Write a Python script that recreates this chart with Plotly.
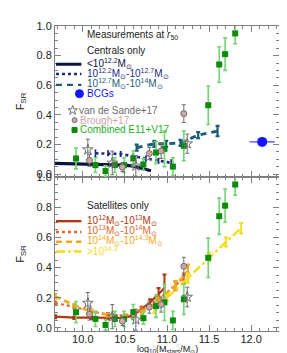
import plotly.graph_objects as go

# ---------------- data ----------------
# Combined E11+V17 (shown in both panels)
comb_x = [9.92, 10.15, 10.27, 10.38, 10.49, 10.60, 10.72, 10.87, 10.97, 11.07, 11.20, 11.49, 11.62, 11.69, 11.81]
comb_y = [0.105, 0.06, 0.02, 0.06, 0.06, 0.105, 0.065, 0.145, 0.17, 0.05, 0.19, 0.465, 0.74, 0.81, 0.95]
comb_e = [0.07, 0.05, 0.035, 0.05, 0.05, 0.05, 0.04, 0.075, 0.12, 0.06, 0.10, 0.13, 0.12, 0.11, 0.07]
# van de Sande+17
vds_x = [10.06, 10.35, 10.63, 11.24]
vds_y = [0.165, 0.075, 0.055, 0.205]
vds_e = [0.07, 0.08, 0.07, 0.065]
# Brough+17
bro_x = [10.08, 10.47, 10.79, 10.93, 11.20]
bro_y = [0.092, 0.046, 0.138, 0.155, 0.408]
bro_e = [0.04, 0.03, 0.04, 0.05, 0.06]
# BCGs
bcg_x = [12.13]
bcg_y = [0.217]
bcg_xe = [0.15]
# Centrals: halo mass bins
c1_x = [9.67, 9.9, 10.1, 10.3, 10.5, 10.6, 10.7, 10.81]
c1_y = [0.072, 0.07, 0.067, 0.064, 0.06, 0.053, 0.04, 0.022]
c2_x = [10.15, 10.3, 10.45, 10.6, 10.75, 10.9, 11.05]
c2_y = [0.14, 0.14, 0.135, 0.12, 0.105, 0.09, 0.075]
c2_e = [0.02, 0.015, 0.015, 0.015, 0.015, 0.015, 0.02]
c3_x = [10.64, 10.85, 10.99, 11.16, 11.37, 11.60]
c3_y = [0.178, 0.204, 0.204, 0.21, 0.263, 0.29]
c3_e = [0.02, 0.02, 0.02, 0.02, 0.02, 0.035]
# Satellites: halo mass bins
s1_x = [9.67, 9.9, 10.1, 10.3, 10.5, 10.6, 10.7, 10.8, 10.9, 10.97]
s1_y = [0.075, 0.068, 0.068, 0.066, 0.066, 0.085, 0.125, 0.17, 0.225, 0.265]
s1_e = [0.01, 0.008, 0.008, 0.008, 0.008, 0.01, 0.015, 0.02, 0.04, 0.09]
s2_x = [9.67, 9.9, 10.1, 10.3, 10.5, 10.7, 10.9, 11.1, 11.2]
s2_y = [0.165, 0.14, 0.11, 0.09, 0.08, 0.12, 0.19, 0.28, 0.33]
s2_e = [0.01, 0.01, 0.01, 0.01, 0.01, 0.015, 0.02, 0.03, 0.03]
s3_x = [9.67, 9.9, 10.1, 10.3, 10.5, 10.7, 10.9, 11.1, 11.25]
s3_y = [0.21, 0.15, 0.11, 0.085, 0.075, 0.1, 0.18, 0.28, 0.38]
s3_e = [0.015, 0.01, 0.01, 0.01, 0.01, 0.015, 0.02, 0.03, 0.04]
s4_x = [10.85, 11.0, 11.25, 11.5, 11.7, 11.88]
s4_y = [0.12, 0.2, 0.33, 0.47, 0.57, 0.66]
s4_e = [0.02, 0.02, 0.03, 0.03, 0.03, 0.035]

x_range = [9.67, 12.33]
y_range = [-0.02, 1.0]

# ---------------- styles ----------------
C_NAVY = "#0d1440"
C_NAVY2 = "#1c2b85"
C_TEAL = "#1b5e78"
C_BCG = "#1414ff"
C_GRAY = "#6e6e6e"
C_BRO = "#cfa6a6"
C_GREEN = "#0b8a0b"
C_GREEN_E = "#72d672"
C_S1 = "#b0360f"
C_S2 = "#e2652c"
C_S3 = "#f4a81a"
C_S4 = "#f6dc1e"
FONT = "Liberation Sans"

W, H = 287, 353
L, R, T, B = 42, 16, 12, 30
SPLIT = 0.505
PW, PH = W - L - R, H - T - B

fig = go.Figure()


def add_obs(xa, ya):
    fig.add_trace(go.Scatter(x=comb_x, y=comb_y, mode="markers", xaxis=xa, yaxis=ya,
                             error_y=dict(type="data", array=comb_e, color=C_GREEN_E, thickness=1.6, width=2),
                             marker=dict(symbol="square", size=6, color=C_GREEN, line=dict(width=0))))
    fig.add_trace(go.Scatter(x=vds_x, y=vds_y, mode="markers", xaxis=xa, yaxis=ya,
                             error_y=dict(type="data", array=vds_e, color=C_GRAY, thickness=1, width=2),
                             marker=dict(symbol="star-open", size=8, color=C_GRAY, line=dict(width=1))))
    fig.add_trace(go.Scatter(x=bro_x, y=bro_y, mode="markers", xaxis=xa, yaxis=ya,
                             error_y=dict(type="data", array=bro_e, color=C_GRAY, thickness=1, width=2),
                             marker=dict(symbol="circle", size=6, color=C_BRO, line=dict(width=1, color=C_GRAY))))


# upper panel (centrals)
fig.add_trace(go.Scatter(x=c1_x, y=c1_y, mode="lines", xaxis="x2", yaxis="y2",
                         line=dict(color=C_NAVY, width=3.2)))
fig.add_trace(go.Scatter(x=c2_x, y=c2_y, mode="lines", xaxis="x2", yaxis="y2",
                         error_y=dict(type="data", array=c2_e, color=C_NAVY2, thickness=1.5, width=1),
                         line=dict(color=C_NAVY2, width=2.6, dash="dot")))
fig.add_trace(go.Scatter(x=c3_x, y=c3_y, mode="lines", xaxis="x2", yaxis="y2",
                         error_y=dict(type="data", array=c3_e, color=C_TEAL, thickness=2.2, width=2),
                         line=dict(color=C_TEAL, width=3, dash="6px,5px")))
fig.add_trace(go.Scatter(x=bcg_x, y=bcg_y, mode="markers", xaxis="x2", yaxis="y2",
                         error_x=dict(type="data", array=bcg_xe, color=C_BCG, thickness=1, width=0),
                         marker=dict(symbol="circle", size=10, color=C_BCG)))
add_obs("x2", "y2")

# lower panel (satellites)
fig.add_trace(go.Scatter(x=s1_x, y=s1_y, mode="lines", xaxis="x", yaxis="y",
                         error_y=dict(type="data", array=s1_e, color=C_S1, thickness=2, width=2),
                         line=dict(color=C_S1, width=2.2)))
fig.add_trace(go.Scatter(x=s2_x, y=s2_y, mode="lines", xaxis="x", yaxis="y",
                         error_y=dict(type="data", array=s2_e, color=C_S2, thickness=2, width=2),
                         line=dict(color=C_S2, width=2.2, dash="dot")))
fig.add_trace(go.Scatter(x=s3_x, y=s3_y, mode="lines", xaxis="x", yaxis="y",
                         error_y=dict(type="data", array=s3_e, color=C_S3, thickness=2, width=2),
                         line=dict(color=C_S3, width=2.6, dash="6px,4px")))
fig.add_trace(go.Scatter(x=s4_x, y=s4_y, mode="lines", xaxis="x", yaxis="y",
                         error_y=dict(type="data", array=s4_e, color=C_S4, thickness=2, width=2),
                         line=dict(color=C_S4, width=2.4, dash="dashdot")))
add_obs("x", "y")

# ---------------- in-plot legends (helper axes in pixel units of the page) ----------------


def leg_line(y_px, color, dash, width):
    fig.add_trace(go.Scatter(x=[43, 69], y=[y_px, y_px], mode="lines", xaxis="x3", yaxis="y3",
                             line=dict(color=color, width=width, dash=dash)))


def leg_marker(x_px, y_px, symbol, size, color, lc=None):
    fig.add_trace(go.Scatter(x=[x_px], y=[y_px], mode="markers", xaxis="x3", yaxis="y3",
                             marker=dict(symbol=symbol, size=size, color=color,
                                         line=dict(width=1, color=lc or color))))


ann = []


def leg_text(x_px, y_px, text, color):
    ann.append(dict(x=x_px, y=y_px, xref="x3", yref="y3", text=text, showarrow=False,
                    xanchor="left", yanchor="middle", font=dict(family=FONT, size=10, color=color)))


MS = "M<sub>\u2299</sub>"
leg_text(73, 21, "Measurements at <i>r</i><sub>50</sub>", "#222")
leg_text(73, 37, "Centrals only", "#222")
leg_line(51, C_NAVY, "solid", 3)
leg_text(73, 50, "&lt;10<sup>12.2</sup>" + MS, C_NAVY)
leg_line(61, C_NAVY2, "dot", 2.4)
leg_text(73, 60, "10<sup>12.2</sup>" + MS + "-10<sup>12.7</sup>" + MS, C_NAVY2)
leg_line(72, C_TEAL, "6px,5px", 2.4)
leg_text(73, 71, "10<sup>12.7</sup>" + MS + "-10<sup>14</sup>" + MS, C_TEAL)
leg_marker(67, 81, "circle", 8, C_BCG)
leg_text(73, 81, "BCGs", C_BCG)
leg_marker(60, 98, "star-open", 7, C_GRAY)
leg_text(64, 98, "van de Sande+17", C_GRAY)
leg_marker(62, 108, "circle", 5, C_BRO, C_GRAY)
leg_text(66, 108, "Brough+17", C_BRO)
leg_marker(62, 118, "square", 5, C_GREEN)
leg_text(66, 118, "Combined E11+V17", "#22b022")

leg_text(73, 195, "Satellites only", "#222")
leg_line(211, C_S1, "solid", 2.4)
leg_text(73, 210, "10<sup>12</sup>" + MS + "-10<sup>13</sup>" + MS, C_S1)
leg_line(222, C_S2, "dot", 2.4)
leg_text(73, 221, "10<sup>13</sup>" + MS + "-10<sup>14</sup>" + MS, C_S2)
leg_line(232, C_S3, "6px,4px", 2.4)
leg_text(73, 231, "10<sup>14</sup>" + MS + "-10<sup>14.3</sup>" + MS, C_S3)
leg_line(242, C_S4, "dashdot", 2.4)
leg_text(73, 241, "&gt;10<sup>14.3</sup>", C_S4)

# x axis title (paper coords, kept inside the page)
ann.append(dict(x=0.5, y=(H - B - 348) / PH, xref="paper", yref="paper", yanchor="bottom", xanchor="center",
                text="log<sub>10</sub>(M<sub>stars</sub>/M<sub>\u2299</sub>)", showarrow=False, borderpad=0,
                font=dict(family=FONT, size=9, color="#222")))

axis_common = dict(range=x_range, showline=True, linecolor="#808080", linewidth=1, mirror="allticks",
                   ticks="inside", ticklen=6, tickcolor="#808080", tickwidth=1, dtick=0.5, tick0=10,
                   tickformat=".1f", showgrid=False, zeroline=False,
                   minor=dict(dtick=0.1, ticks="inside", ticklen=3, tickcolor="#808080", showgrid=False),
                   tickfont=dict(family=FONT, size=11, color="#222"))
yaxis_common = dict(range=y_range, showline=True, linecolor="#808080", linewidth=1, mirror="allticks",
                    ticks="inside", ticklen=6, tickcolor="#808080", tickwidth=1, dtick=0.2, tick0=0,
                    tickformat=".1f", showgrid=False, zeroline=False,
                    minor=dict(dtick=0.05, ticks="inside", ticklen=3, tickcolor="#808080", showgrid=False),
                    tickfont=dict(family=FONT, size=11, color="#222"),
                    title=dict(text="F<sub>SR</sub>", font=dict(family=FONT, size=11, color="#222"), standoff=9))

fig.update_layout(
    width=W, height=H, margin=dict(l=L, r=R, t=T, b=B, pad=0),
    paper_bgcolor="white", plot_bgcolor="rgba(0,0,0,0)", showlegend=False,
    xaxis=dict(axis_common, anchor="y", domain=[0, 1], ticklabelstandoff=-2),
    yaxis=dict(yaxis_common, anchor="x", domain=[0, SPLIT]),
    xaxis2=dict(axis_common, anchor="y2", domain=[0, 1], showticklabels=False, matches="x"),
    yaxis2=dict(yaxis_common, anchor="x2", domain=[SPLIT, 1]),
    xaxis3=dict(range=[L, W - R], domain=[0, 1], visible=False, anchor="y3", fixedrange=True),
    yaxis3=dict(range=[H - B, T], domain=[0, 1], visible=False, anchor="x3", fixedrange=True),
    annotations=ann,
)

fig.write_html("out.html")
